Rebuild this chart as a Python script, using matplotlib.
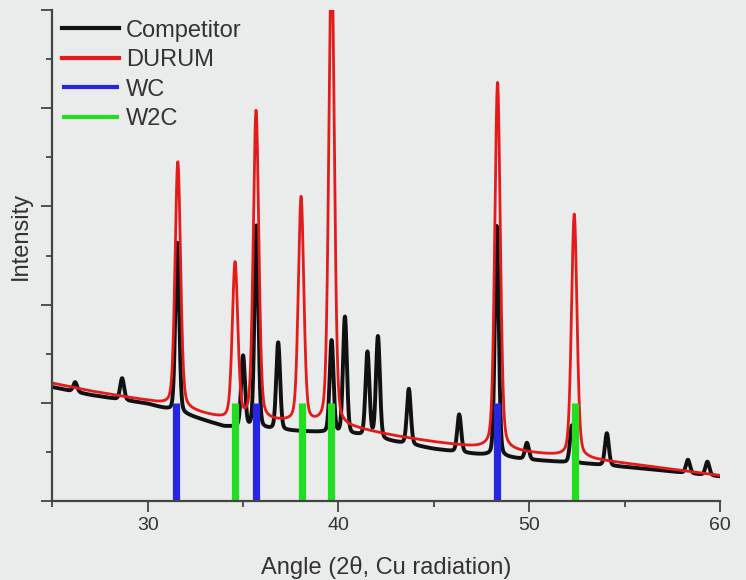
import numpy as np
import matplotlib
matplotlib.use("Agg")
from matplotlib import pyplot as plt
from matplotlib.ticker import MultipleLocator

plt.rcParams['font.family'] = ['Liberation Sans', 'DejaVu Sans']

# baseline knots (angle, intensity) of each scan
comp_base_x = [25, 27, 30, 32, 34, 37, 39, 41, 43, 45, 47, 50, 53, 56, 60]
comp_base_y = [1.16, 1.08, 0.99, 0.88, 0.76, 0.72, 0.70, 0.67, 0.60, 0.53, 0.48, 0.42, 0.38, 0.33, 0.25]
durum_base_x = [25, 27, 30, 32, 34, 37, 41, 43, 45, 47, 50, 53, 56, 60]
durum_base_y = [1.20, 1.12, 1.02, 0.93, 0.83, 0.80, 0.73, 0.66, 0.60, 0.55, 0.49, 0.43, 0.36, 0.26]

# reflections: position (2theta) and apex intensity
comp_pos = [26.2, 28.66, 31.55, 35.0, 35.7, 36.84, 39.64, 40.34, 41.52, 42.07,
            43.69, 46.33, 48.3, 49.88, 52.24, 54.07, 58.32, 59.34]
comp_top = [1.21, 1.25, 2.63, 1.47, 2.8, 1.61, 1.63, 1.87, 1.51, 1.67,
            1.14, 0.88, 2.8, 0.59, 0.77, 0.69, 0.42, 0.40]
durum_pos = [31.58, 34.58, 35.68, 38.04, 39.64, 48.34, 52.36]
durum_top = [3.45, 2.41, 3.96, 3.08, 5.6, 4.26, 2.92]

# reference patterns
wc_pos = [31.5, 35.7, 48.3]
w2c_pos = [34.6, 38.1, 39.6, 52.4]
ref_height = 1.0

angle = np.linspace(25, 60, 3501)


def pattern(base_x, base_y, pos, top, fwhm, eta):
    base = np.interp(angle, base_x, base_y)
    y = base.copy()
    for p, t in zip(pos, top):
        amp = t - np.interp(p, base_x, base_y)
        d = (angle - p) / fwhm
        gauss = np.exp(-4 * np.log(2) * d ** 2)
        lor = 1 / (1 + 4 * d ** 2)
        y += amp * ((1 - eta) * gauss + eta * lor)
    return y


comp = pattern(comp_base_x, comp_base_y, comp_pos, comp_top, 0.24, 0.2)
durum = pattern(durum_base_x, durum_base_y, durum_pos, durum_top, 0.34, 0.3)

bg = '#eaebeb'
fig = plt.figure(figsize=(7.46, 5.80), dpi=100, facecolor=bg)
ax = fig.add_axes([52.3 / 746, 79 / 580, (720 - 52.3) / 746, 491 / 580])
ax.set_facecolor(bg)

ax.plot(angle, comp, color='#111111', lw=2.8, label='Competitor')
ax.plot(angle, durum, color='#e31b1b', lw=2.0, label='DURUM')
ax.vlines(wc_pos, 0, ref_height, color='#2626e0', lw=5.2, label='WC')
ax.vlines(w2c_pos, 0, ref_height, color='#22dd22', lw=5.2, label='W2C')

ax.set_xlim(25, 60)
ax.set_ylim(0, 5)
ax.xaxis.set_major_locator(MultipleLocator(10))
ax.xaxis.set_minor_locator(MultipleLocator(5))
ax.yaxis.set_major_locator(MultipleLocator(1))
ax.yaxis.set_minor_locator(MultipleLocator(0.5))
ax.set_xticks([30, 40, 50, 60])
ax.set_yticklabels([])
ax.tick_params(which='major', length=8, width=1.3, color='#444444', labelsize=14, labelcolor='#333333')
ax.tick_params(which='minor', length=4, width=1.3, color='#444444')
for side in ['top', 'right']:
    ax.spines[side].set_visible(False)
for side in ['left', 'bottom']:
    ax.spines[side].set_color('#444444')
    ax.spines[side].set_linewidth(1.6)

ax.set_xlabel('Angle (2θ, Cu radiation)', fontsize=17, color='#333333', labelpad=16)
ax.set_ylabel('Intensity', fontsize=17, color='#333333')
ax.yaxis.set_label_coords(-0.031, 0.54)

leg = ax.legend(loc='upper left', bbox_to_anchor=(0.008, 0.99), frameon=False,
                fontsize=17, handlelength=2.4, handletextpad=0.3, labelspacing=0.32,
                borderpad=0.2, borderaxespad=0)
for line in leg.get_lines():
    line.set_linewidth(3.0)
for t in leg.get_texts():
    t.set_color('#333333')

fig.savefig('out.png', dpi=100, facecolor=bg)
